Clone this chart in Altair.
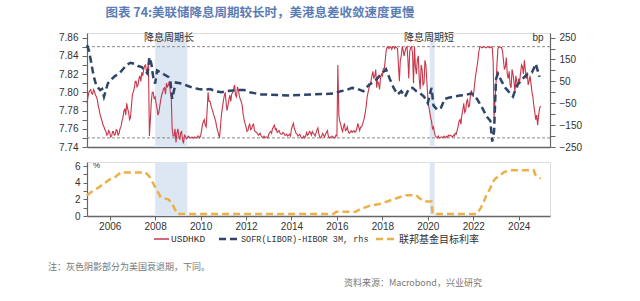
import altair as alt
import pandas as pd

# ---------------- data ----------------
usd_years = list(range(2005, 2025))
# USDHKD, first of each month
usd_2005 = [7.788, 7.800, 7.803, 7.798, 7.801, 7.795, 7.785, 7.775, 7.768, 7.762, 7.757, 7.754]
usd_2006 = [7.756, 7.752, 7.757, 7.754, 7.758, 7.755, 7.762, 7.772, 7.782, 7.788, 7.778, 7.772]
usd_2007 = [7.798, 7.805, 7.812, 7.808, 7.818, 7.822, 7.825, 7.830, 7.826, 7.752, 7.790, 7.800]
usd_2008 = [7.795, 7.782, 7.778, 7.792, 7.800, 7.805, 7.810, 7.808, 7.800, 7.760, 7.752, 7.745]
usd_2009 = [7.760, 7.748, 7.757, 7.744, 7.752, 7.750, 7.751, 7.750, 7.750, 7.751, 7.750, 7.752]
usd_2010 = [7.752, 7.765, 7.770, 7.762, 7.800, 7.790, 7.782, 7.775, 7.768, 7.758, 7.750, 7.775]
usd_2011 = [7.790, 7.800, 7.780, 7.792, 7.790, 7.800, 7.808, 7.795, 7.802, 7.792, 7.785, 7.770]
usd_2012 = [7.762, 7.758, 7.765, 7.760, 7.765, 7.757, 7.755, 7.754, 7.752, 7.750, 7.750, 7.751]
usd_2013 = [7.754, 7.757, 7.760, 7.764, 7.760, 7.757, 7.755, 7.754, 7.755, 7.753, 7.752, 7.754]
usd_2014 = [7.760, 7.766, 7.758, 7.754, 7.753, 7.751, 7.750, 7.750, 7.756, 7.754, 7.756, 7.757]
usd_2015 = [7.754, 7.756, 7.761, 7.751, 7.752, 7.753, 7.754, 7.758, 7.750, 7.750, 7.751, 7.750]
usd_2016 = [7.752, 7.775, 7.765, 7.757, 7.766, 7.759, 7.757, 7.756, 7.756, 7.758, 7.757, 7.766]
usd_2017 = [7.758, 7.762, 7.768, 7.778, 7.795, 7.805, 7.812, 7.823, 7.818, 7.805, 7.810, 7.815]
usd_2018 = [7.818, 7.826, 7.845, 7.850, 7.849, 7.847, 7.850, 7.850, 7.848, 7.812, 7.840, 7.846]
usd_2019 = [7.845, 7.850, 7.815, 7.849, 7.842, 7.850, 7.820, 7.840, 7.803, 7.825, 7.810, 7.830]
usd_2020 = [7.795, 7.778, 7.768, 7.762, 7.752, 7.750, 7.750, 7.751, 7.750, 7.751, 7.752, 7.753]
usd_2021 = [7.753, 7.751, 7.752, 7.754, 7.762, 7.770, 7.775, 7.788, 7.780, 7.792, 7.785, 7.802]
usd_2022 = [7.795, 7.815, 7.828, 7.845, 7.850, 7.849, 7.850, 7.849, 7.850, 7.849, 7.849, 7.772]
usd_2023 = [7.810, 7.848, 7.850, 7.849, 7.835, 7.828, 7.820, 7.823, 7.805, 7.820, 7.800, 7.812]
usd_2024 = [7.815, 7.822, 7.828, 7.835, 7.815, 7.808, 7.818, 7.800, 7.785, 7.770, 7.764, 7.782]
# USDHKD, middle of each month
mid_2005 = [7.795, 7.802, 7.799, 7.803, 7.797, 7.792, 7.781, 7.772, 7.764, 7.759, 7.753, 7.758]
mid_2006 = [7.751, 7.757, 7.753, 7.759, 7.753, 7.760, 7.768, 7.779, 7.775, 7.782, 7.770, 7.785]
mid_2007 = [7.800, 7.812, 7.806, 7.815, 7.812, 7.818, 7.829, 7.822, 7.831, 7.770, 7.800, 7.793]
mid_2008 = [7.788, 7.775, 7.785, 7.797, 7.804, 7.798, 7.806, 7.812, 7.795, 7.752, 7.760, 7.755]
mid_2009 = [7.752, 7.756, 7.748, 7.753, 7.749, 7.752, 7.750, 7.751, 7.750, 7.750, 7.752, 7.750]
mid_2010 = [7.758, 7.768, 7.764, 7.780, 7.790, 7.786, 7.779, 7.772, 7.762, 7.754, 7.762, 7.782]
mid_2011 = [7.796, 7.788, 7.785, 7.797, 7.798, 7.804, 7.797, 7.806, 7.796, 7.790, 7.776, 7.766]
mid_2012 = [7.757, 7.763, 7.759, 7.764, 7.758, 7.756, 7.753, 7.755, 7.751, 7.752, 7.751, 7.750]
mid_2013 = [7.756, 7.755, 7.762, 7.759, 7.756, 7.758, 7.754, 7.756, 7.753, 7.754, 7.753, 7.752]
mid_2014 = [7.763, 7.760, 7.755, 7.752, 7.754, 7.750, 7.752, 7.752, 7.753, 7.757, 7.753, 7.755]
mid_2015 = [7.752, 7.759, 7.754, 7.750, 7.755, 7.751, 7.756, 7.752, 7.751, 7.752, 7.750, 7.753]
mid_2016 = [7.830, 7.768, 7.760, 7.762, 7.758, 7.762, 7.755, 7.758, 7.757, 7.756, 7.760, 7.762]
mid_2017 = [7.762, 7.765, 7.772, 7.785, 7.800, 7.808, 7.818, 7.815, 7.825, 7.812, 7.803, 7.820]
mid_2018 = [7.826, 7.835, 7.849, 7.848, 7.850, 7.850, 7.848, 7.849, 7.830, 7.835, 7.850, 7.840]
mid_2019 = [7.849, 7.835, 7.845, 7.850, 7.810, 7.828, 7.835, 7.815, 7.830, 7.808, 7.835, 7.812]
mid_2020 = [7.785, 7.772, 7.760, 7.756, 7.751, 7.752, 7.750, 7.751, 7.752, 7.750, 7.751, 7.752]
mid_2021 = [7.752, 7.753, 7.755, 7.758, 7.768, 7.765, 7.780, 7.778, 7.790, 7.784, 7.797, 7.798]
mid_2022 = [7.805, 7.822, 7.835, 7.850, 7.849, 7.850, 7.849, 7.850, 7.849, 7.850, 7.835, 7.790]
mid_2023 = [7.830, 7.850, 7.849, 7.845, 7.825, 7.838, 7.815, 7.808, 7.825, 7.812, 7.818, 7.805]
mid_2024 = [7.812, 7.830, 7.820, 7.825, 7.822, 7.812, 7.810, 7.795, 7.778, 7.775, 7.775, 7.785]

spread_dates = ["2005-01-01", "2005-02-01", "2005-03-01", "2005-04-01", "2005-05-01", "2005-06-01",
                "2005-07-01", "2005-08-01", "2005-09-01", "2005-10-01", "2005-11-01", "2005-12-01",
                "2006-02-01", "2006-04-01", "2006-06-01", "2006-08-01", "2006-10-01", "2006-12-01",
                "2007-02-01", "2007-04-01", "2007-06-01", "2007-08-01", "2007-09-01", "2007-10-01",
                "2007-11-01", "2007-12-01", "2008-01-01", "2008-02-01", "2008-04-01", "2008-06-01",
                "2008-08-01", "2008-09-01", "2008-10-01", "2008-11-01", "2008-12-01", "2009-03-01",
                "2009-06-01", "2009-09-01", "2009-12-01", "2010-03-01", "2010-06-01", "2010-09-01",
                "2010-12-01", "2011-03-01", "2011-06-01", "2011-09-01", "2011-12-01", "2012-03-01",
                "2012-06-01", "2012-09-01", "2012-12-01", "2013-06-01", "2013-12-01", "2014-06-01",
                "2014-12-01", "2015-06-01", "2015-12-01", "2016-03-01", "2016-06-01", "2016-09-01",
                "2016-12-01", "2017-03-01", "2017-06-01", "2017-09-01", "2017-12-01", "2018-03-01",
                "2018-05-01", "2018-07-01", "2018-09-01", "2018-11-01", "2019-01-01", "2019-03-01",
                "2019-05-01", "2019-07-01", "2019-09-01", "2019-11-01", "2020-01-01", "2020-02-01",
                "2020-03-01", "2020-04-01", "2020-06-01", "2020-08-01", "2020-10-01", "2020-12-01",
                "2021-03-01", "2021-06-01", "2021-09-01", "2021-12-01", "2022-03-01", "2022-06-01",
                "2022-08-01", "2022-10-01", "2022-11-01", "2022-12-01", "2023-01-01", "2023-02-01",
                "2023-04-01", "2023-06-01", "2023-08-01", "2023-10-01", "2023-12-01", "2024-02-01",
                "2024-04-01", "2024-06-01", "2024-08-01", "2024-10-01", "2024-12-01"]
spread_bp = [215, 190, 150, 100, 60, 30,
             20, 10, 15, -20, 10, 40,
             60, 75, 85, 105, 125, 135,
             130, 120, 115, 95, 85, 160,
             130, 70, 40, 100, 90, 80,
             70, 55, -30, 10, 45, 40,
             30, 20, 15, 12, 15, 5,
             0, 5, 8, 10, 10, 0,
             -5, -10, -10, -12, -15, -12,
             -10, -8, -5, 5, 10, 20,
             15, 5, 35, 50, 80, 105,
             60, 20, -10, 5, -20, 15,
             20, 5, -5, -20, -50, -10,
             20, -60, -80, -70, -30, -25,
             -20, -15, -12, -5, -30, -75,
             -110, -130, -225, -180, 60, 85,
             50, 20, 0, -20, 30, 50,
             70, 85, 90, 130, 70]

fed_dates = ["2005-01-01", "2005-04-01", "2005-07-01", "2005-10-01", "2006-01-01", "2006-04-01",
             "2006-07-01", "2007-08-01", "2007-10-01", "2008-01-01", "2008-04-01", "2008-08-01",
             "2008-10-01", "2008-12-20", "2015-11-01", "2015-12-20", "2016-11-01", "2016-12-20",
             "2017-03-20", "2017-06-20", "2017-12-20", "2018-03-20", "2018-06-20", "2018-09-30",
             "2018-12-20", "2019-07-01", "2019-08-01", "2019-10-31", "2020-02-28", "2020-03-20",
             "2022-02-28", "2022-03-20", "2022-05-05", "2022-06-20", "2022-07-30", "2022-09-25",
             "2022-11-05", "2022-12-20", "2023-02-05", "2023-03-25", "2023-05-05", "2023-07-30",
             "2024-08-31", "2024-09-20", "2024-11-10", "2024-12-20"]
fed_rate = [2.5, 3.0, 3.4, 3.9, 4.4, 4.7,
            5.25, 5.25, 4.75, 3.5, 2.25, 2.0,
            1.5, 0.25, 0.25, 0.5, 0.5, 0.75,
            1.0, 1.25, 1.5, 1.75, 2.0, 2.25,
            2.5, 2.5, 2.25, 1.75, 1.75, 0.25,
            0.25, 0.5, 1.0, 1.75, 2.5, 3.25,
            4.0, 4.5, 4.75, 5.0, 5.25, 5.5,
            5.5, 5.0, 4.75, 4.5]

rec_start = ["2008-01-01", "2020-02-01"]
rec_end = ["2009-06-01", "2020-04-20"]

# ---------------- tables ----------------
usd_lists = [usd_2005, usd_2006, usd_2007, usd_2008, usd_2009, usd_2010, usd_2011, usd_2012,
             usd_2013, usd_2014, usd_2015, usd_2016, usd_2017, usd_2018, usd_2019, usd_2020,
             usd_2021, usd_2022, usd_2023, usd_2024]
mid_lists = [mid_2005, mid_2006, mid_2007, mid_2008, mid_2009, mid_2010, mid_2011, mid_2012,
             mid_2013, mid_2014, mid_2015, mid_2016, mid_2017, mid_2018, mid_2019, mid_2020,
             mid_2021, mid_2022, mid_2023, mid_2024]
rows = []
for y, vals, mids in zip(usd_years, usd_lists, mid_lists):
    for m in range(12):
        rows.append({"date": f"{y}-{m + 1:02d}-01", "v": vals[m]})
        rows.append({"date": f"{y}-{m + 1:02d}-16", "v": mids[m]})
usd_df = pd.DataFrame(rows).sort_values("date").reset_index(drop=True)
spread_df = pd.DataFrame({"date": spread_dates, "bp": spread_bp})
fed_df = pd.DataFrame({"date": fed_dates, "r": fed_rate})
rec_df = pd.DataFrame({"start": rec_start, "end": rec_end})


def ms(s):
    return int(pd.Timestamp(s, tz="UTC").value // 10**6)


W = 463
H_TOP = 114
H_BOT = 54
RED = "#c8364a"
NAVY = "#2e4468"
ORANGE = "#eab04a"
SHADE = "#dde6f3"
AXC = "#666666"
TXT = "#333333"

xscale = alt.Scale(type="utc", domain=[ms("2005-01-01"), ms("2025-05-18")], nice=False)
year_ticks = [ms(f"{y}-01-01") for y in range(2006, 2025, 2)]

x_top_axis = alt.Axis(labels=False, ticks=False, grid=False, title=None, domain=True,
                      domainColor=AXC, domainWidth=1.5, values=year_ticks)
x_bot_axis = alt.Axis(values=year_ticks, labelExpr="utcFormat(datum.value, '%Y')", grid=False,
                      title=None, domainColor=AXC, domainWidth=1.5, tickColor=AXC, tickSize=4,
                      labelPadding=1, labelFontSize=10, labelColor=TXT, labelFont="Liberation Sans")

yl = alt.Scale(domain=[7.74, 7.865], nice=False, zero=False)
yr = alt.Scale(domain=[-250, 270.83], nice=False, zero=False)

left_vals = [round(7.74 + 0.01 * i, 2) for i in range(13)]
left_axis = alt.Axis(values=left_vals,
                     labelExpr="round(datum.value*100) % 2 == 0 ? format(datum.value, '.2f') : ''",
                     grid=False, title=None, domainColor=AXC, domainWidth=1.2, tickColor=AXC,
                     tickSize=5, labelPadding=4, labelFontSize=10, labelColor=TXT,
                     labelFont="Liberation Sans", minExtent=30, maxExtent=40)
right_axis = alt.Axis(orient="right", values=list(range(-250, 251, 50)),
                      labelExpr="abs(datum.value % 100) == 50 ? datum.label : ''",
                      grid=False, title=None, domainColor=AXC, domainWidth=1.2, tickColor=AXC,
                      tickSize=5, labelPadding=4, labelFontSize=10, labelColor=TXT,
                      labelFont="Liberation Sans")

one = pd.DataFrame({"k": [0]})

rec_top = alt.Chart(rec_df).mark_rect(color=SHADE).encode(
    x=alt.X("start:T", scale=xscale, axis=x_top_axis), x2="end:T",
    y=alt.value(0), y2=alt.value(H_TOP))
band_lines = alt.Chart(pd.DataFrame({"lvl": [7.85, 7.75]})).mark_rule(
    color="#8a8a8a", strokeDash=[3, 2], strokeWidth=1).encode(
    y=alt.Y("lvl:Q", scale=yl, axis=None))
usd_line = alt.Chart(usd_df).mark_line(color=RED, strokeWidth=1.1).encode(
    x=alt.X("date:T", scale=xscale, axis=x_top_axis),
    y=alt.Y("v:Q", scale=yl, axis=left_axis))
spread_line = alt.Chart(spread_df).mark_line(color=NAVY, strokeWidth=2.5, strokeDash=[7, 4]).encode(
    x=alt.X("date:T", scale=xscale, axis=x_top_axis),
    y=alt.Y("bp:Q", scale=yr, axis=right_axis))


def label(text, x, y, size=10, color=TXT, font="Noto Sans CJK SC", align="center", weight="normal"):
    return alt.Chart(one).mark_text(text=text, fontSize=size, color=color, font=font, align=align,
                                    baseline="middle", fontWeight=weight).encode(
        x=alt.value(x), y=alt.value(y))


ann1 = label("降息周期长", 168 - 86, 37 - 32)
ann2 = label("降息周期短", 428 - 86, 37 - 32)
bp_lbl = label("bp", 537 - 86, 37 - 32, size=10, font="Liberation Sans")
title = label("图表 74:美联储降息周期较长时，美港息差收敛速度更慢", 259 - 86, 12 - 32, size=12.5,
              color="#5b7db5", weight="bold")

top = alt.layer(rec_top, band_lines, usd_line, spread_line, ann1, ann2, bp_lbl, title).resolve_scale(
    y="independent").properties(width=W, height=H_TOP)

rec_bot = alt.Chart(rec_df).mark_rect(color=SHADE).encode(
    x=alt.X("start:T", scale=xscale, axis=x_bot_axis), x2="end:T",
    y=alt.value(0), y2=alt.value(H_BOT))
bot_axis = alt.Axis(values=[0, 1, 2, 3, 4, 5, 6],
                    labelExpr="datum.value % 2 == 0 ? datum.label : ''",
                    grid=False, title=None, domainColor=AXC, domainWidth=1.2, tickColor=AXC,
                    tickSize=4, labelPadding=3, labelFontSize=10, labelColor=TXT,
                    labelFont="Liberation Sans", minExtent=30, maxExtent=40)
fed_line = alt.Chart(fed_df).mark_line(color=ORANGE, strokeWidth=2.5, strokeDash=[7, 4]).encode(
    x=alt.X("date:T", scale=xscale, axis=x_bot_axis),
    y=alt.Y("r:Q", scale=alt.Scale(domain=[0, 6.5], nice=False), axis=bot_axis))
pct = label("%", 92 - 86, 165 - 161, size=8, font="Liberation Sans", align="left")

LY = 238 - 161
leg_red = alt.Chart(one).mark_rule(color=RED, strokeWidth=1.5).encode(
    x=alt.value(153 - 86), x2=alt.value(168 - 86), y=alt.value(LY))
leg_navy = alt.Chart(one).mark_rule(color=NAVY, strokeWidth=2.5, strokeDash=[7, 4]).encode(
    x=alt.value(218 - 86), x2=alt.value(238 - 86), y=alt.value(LY))
leg_orange = alt.Chart(one).mark_rule(color=ORANGE, strokeWidth=2.5, strokeDash=[7, 4]).encode(
    x=alt.value(375 - 86), x2=alt.value(395 - 86), y=alt.value(LY))
leg_t1 = label("USDHKD", 170 - 86, LY, size=9.5, font="Liberation Mono", align="left")
leg_t2 = label("SOFR(LIBOR)-HIBOR 3M, rhs", 240 - 86, LY, size=8.5, font="Liberation Mono", align="left")
leg_t3 = label("联邦基金目标利率", 398 - 86, LY + 1, size=10, align="left")
note = label("注：灰色阴影部分为美国衰退期，下同。", 47 - 86, 266 - 161, size=9, color="#777777", align="left")
source = label("资料来源：Macrobond，兴业研究", 343 - 86, 282 - 161, size=9, color="#777777", align="left")

bottom = alt.layer(rec_bot, fed_line, pct, leg_red, leg_navy, leg_orange, leg_t1, leg_t2, leg_t3,
                   note, source).properties(width=W, height=H_BOT)

chart = alt.vconcat(top, bottom, spacing=15, bounds="flush").properties(
    padding={"left": 47, "top": 6, "right": 5, "bottom": 5}
).configure_view(stroke=None).configure(background="white")

chart.save("out.html", embed_options={"renderer": "svg", "actions": False})
